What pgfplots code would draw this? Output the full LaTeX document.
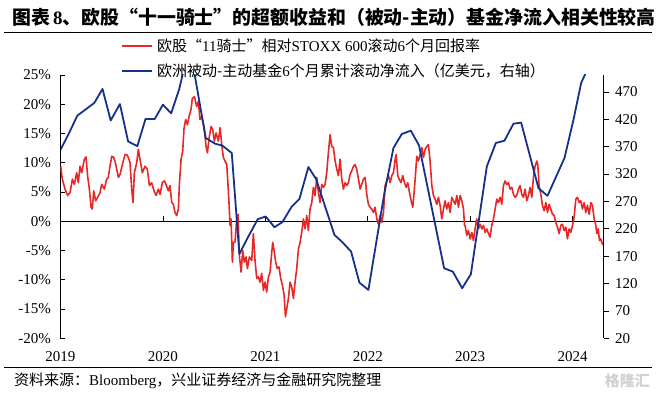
\documentclass[border=0pt]{standalone}
\usepackage{fontspec}
\setmainfont{Liberation Serif}
\newfontfamily\cjk{Noto Sans CJK SC}
\usepackage{pgfplots}
\pgfplotsset{compat=1.18}
\definecolor{myred}{RGB}{230,40,40}
\definecolor{myblue}{RGB}{22,48,140}
\pgfplotstableread{
x y
2019.002 9.4
2019.018 7.2
2019.044 5.5
2019.070 4.4
2019.093 4.9
2019.116 7.2
2019.135 6.3
2019.158 8.3
2019.174 6.6
2019.190 9.4
2019.207 8.3
2019.233 10.6
2019.249 11.0
2019.265 7.7
2019.282 5.5
2019.298 2.4
2019.311 2.1
2019.324 5.2
2019.343 3.5
2019.363 4.1
2019.386 4.9
2019.402 6.3
2019.428 5.5
2019.451 7.2
2019.467 7.5
2019.483 9.4
2019.500 11.1
2019.516 11.0
2019.532 10.3
2019.549 8.9
2019.565 7.5
2019.581 8.0
2019.604 9.7
2019.630 11.4
2019.646 11.4
2019.662 10.9
2019.679 10.0
2019.695 5.5
2019.708 3.2
2019.721 8.3
2019.744 10.0
2019.760 12.3
2019.776 10.6
2019.799 8.3
2019.825 9.4
2019.848 8.9
2019.868 6.1
2019.890 6.6
2019.913 5.2
2019.933 4.4
2019.955 5.5
2019.972 4.6
2019.994 6.6
2020.014 6.9
2020.030 6.3
2020.053 5.2
2020.069 6.1
2020.086 3.2
2020.102 2.9
2020.118 1.5
2020.134 0.96
2020.151 2.1
2020.160 6.1
2020.177 10.6
2020.193 12.0
2020.206 15.9
2020.222 17.4
2020.239 16.5
2020.255 17.9
2020.274 19.1
2020.287 21.0
2020.307 21.3
2020.330 19.6
2020.346 20.5
2020.362 17.4
2020.379 17.9
2020.401 16.2
2020.421 12.8
2020.434 11.7
2020.453 14.5
2020.470 16.2
2020.486 15.7
2020.502 13.7
2020.519 15.1
2020.541 13.7
2020.558 16.0
2020.574 13.1
2020.590 10.9
2020.606 10.3
2020.623 9.7
2020.632 7.2
2020.645 3.2
2020.655 -0.7
2020.665 0.4
2020.678 -7.0
2020.688 -3.6
2020.704 -3.6
2020.720 0.4
2020.733 1.2
2020.746 -5.8
2020.763 -8.7
2020.779 -5.0
2020.795 -7.0
2020.812 -6.1
2020.825 -8.1
2020.844 -6.1
2020.867 -6.7
2020.883 -2.1
2020.899 -6.7
2020.916 -9.8
2020.932 -9.5
2020.948 -10.4
2020.964 -8.9
2020.981 -11.8
2020.997 -10.4
2021.013 -12.1
2021.030 -9.5
2021.046 -8.7
2021.062 -5.3
2021.072 -3.6
2021.085 -5.0
2021.101 -7.0
2021.117 -8.1
2021.134 -7.8
2021.150 -9.8
2021.166 -10.9
2021.183 -12.6
2021.196 -16.3
2021.209 -14.9
2021.225 -13.2
2021.241 -10.4
2021.257 -11.2
2021.274 -13.2
2021.290 -10.4
2021.306 -8.1
2021.323 -4.7
2021.339 -3.6
2021.355 -1.9
2021.371 0.4
2021.388 -1.3
2021.404 1.0
2021.420 -1.6
2021.436 2.1
2021.453 3.2
2021.469 5.8
2021.485 4.4
2021.502 7.5
2021.518 4.9
2021.534 3.2
2021.550 6.3
2021.567 5.8
2021.583 6.3
2021.599 8.3
2021.615 11.7
2021.632 14.8
2021.648 12.8
2021.664 12.6
2021.681 10.3
2021.697 8.9
2021.713 7.8
2021.729 10.6
2021.746 7.2
2021.762 5.5
2021.778 6.6
2021.795 6.1
2021.811 6.6
2021.827 8.0
2021.843 8.6
2021.860 9.4
2021.876 9.7
2021.892 8.9
2021.909 7.2
2021.925 5.5
2021.941 6.3
2021.957 7.2
2021.974 7.5
2021.990 4.6
2022.006 2.9
2022.022 2.4
2022.039 2.1
2022.055 1.5
2022.071 2.4
2022.088 0.4
2022.104 -0.5
2022.120 1.0
2022.136 -0.2
2022.153 1.5
2022.169 6.1
2022.185 6.9
2022.202 7.8
2022.218 6.6
2022.234 7.8
2022.250 8.3
2022.267 10.6
2022.276 11.4
2022.293 7.8
2022.306 7.2
2022.325 6.6
2022.341 7.8
2022.358 6.6
2022.374 5.8
2022.390 6.6
2022.407 4.9
2022.423 3.5
2022.439 2.4
2022.455 5.5
2022.468 8.6
2022.478 11.1
2022.494 10.3
2022.511 11.4
2022.527 12.6
2022.543 10.9
2022.560 12.3
2022.576 12.8
2022.592 13.1
2022.608 10.3
2022.625 6.1
2022.641 4.4
2022.657 3.8
2022.674 2.9
2022.690 4.1
2022.706 2.7
2022.722 0.4
2022.739 2.1
2022.755 3.5
2022.771 2.1
2022.787 3.2
2022.804 1.5
2022.820 4.1
2022.836 3.5
2022.853 2.9
2022.869 4.4
2022.885 2.4
2022.901 4.4
2022.918 3.5
2022.934 2.1
2022.944 -0.7
2022.950 -0.7
2022.966 -2.4
2022.982 -1.6
2022.999 -3.0
2023.015 -1.9
2023.031 -3.3
2023.047 -1.3
2023.064 0.4
2023.080 -1.3
2023.096 -0.5
2023.113 -1.3
2023.129 -0.7
2023.145 -1.9
2023.161 -1.3
2023.178 -2.1
2023.194 -2.7
2023.210 -0.7
2023.227 0.4
2023.243 2.1
2023.259 3.8
2023.275 3.2
2023.292 4.1
2023.308 2.9
2023.324 6.1
2023.340 6.9
2023.357 6.3
2023.373 6.6
2023.389 5.5
2023.406 5.8
2023.422 4.6
2023.438 4.1
2023.454 4.4
2023.471 5.5
2023.487 6.1
2023.503 4.6
2023.519 4.1
2023.536 5.5
2023.552 3.5
2023.568 4.4
2023.585 5.8
2023.601 4.1
2023.617 7.5
2023.633 9.4
2023.650 10.3
2023.659 9.7
2023.672 6.1
2023.689 4.6
2023.705 2.7
2023.721 1.8
2023.738 3.2
2023.754 1.5
2023.770 2.9
2023.786 2.1
2023.803 1.2
2023.819 1.0
2023.835 -0.2
2023.852 -1.0
2023.868 -2.1
2023.884 -0.7
2023.900 -0.5
2023.917 -1.6
2023.933 -1.0
2023.949 -3.0
2023.965 -1.3
2023.982 -1.9
2023.998 -0.7
2024.014 0.7
2024.031 3.8
2024.047 4.1
2024.063 3.2
2024.079 3.5
2024.096 2.1
2024.112 3.2
2024.128 1.5
2024.144 2.7
2024.161 1.2
2024.177 3.2
2024.193 2.7
2024.210 0.4
2024.226 -0.7
2024.236 -2.1
2024.249 -1.3
2024.262 -3.3
2024.275 -3.0
2024.288 -3.8
2024.301 -4.1
}\redtable
\pgfplotstableread{
x y
2019.000 364.5
2019.076 392
2019.164 426.7
2019.330 450
2019.410 475.5
2019.490 418
2019.580 448
2019.660 379.7
2019.750 371
2019.830 420.7
2019.920 420.7
2020.000 446.8
2020.080 431
2020.160 476
2020.260 555
2020.418 385.9
2020.509 375.5
2020.580 372
2020.672 358.5
2020.746 174
2020.834 206
2020.926 237.7
2021.004 242.5
2021.088 223
2021.166 232.2
2021.258 260.8
2021.332 274.3
2021.420 332.8
2021.495 311
2021.674 209
2021.746 196.7
2021.837 178.4
2021.918 121.7
2022.006 108.4
2022.162 285.3
2022.250 367.6
2022.332 393.2
2022.420 399.3
2022.500 372.4
2022.745 148
2022.830 141.8
2022.921 111.5
2023.006 137
2023.162 334
2023.250 376.8
2023.334 381
2023.422 412
2023.497 414
2023.666 294.4
2023.754 280.3
2023.920 349.3
2024.008 419.4
2024.083 486.5
2024.140 510
}\bluetable
\begin{document}
\begin{tikzpicture}[x=1pt,y=1pt]
\useasboundingbox (0,0) rectangle (656,392);
% title
\node[anchor=west, inner sep=0pt] at (12,375) {\fontsize{18.9}{21}\selectfont{\cjk\bfseries 图表}\textbf{\,8}{\cjk\bfseries 、欧股“十一骑士”的超额收益和（被动-主动）基金净流入相关性较高}};
\draw[line width=1pt] (4,359) -- (652,359);
% legend
\draw[myred, line width=1.6pt] (122,346) -- (152,346);
\node[anchor=west, inner sep=0pt] at (157,346) {\fontsize{15}{17}\selectfont{\cjk 欧股“}11{\cjk 骑士”相对}STOXX 600{\cjk 滚动}6{\cjk 个月回报率}};
\draw[myblue, line width=1.6pt] (122,321) -- (152,321);
\node[anchor=west, inner sep=0pt] at (157,321) {\fontsize{15}{17}\selectfont{\cjk 欧洲被动-主动基金}6{\cjk 个月累计滚动净流入（亿美元，右轴）}};
% source
\draw[line width=1pt] (4,24.3) -- (652,24.3);
\node[anchor=west, inner sep=0pt] at (14,11) {\fontsize{15}{17}\selectfont{\cjk 资料来源：}Bloomberg{\cjk ，兴业证券经济与金融研究院整理}};
\node[anchor=east, inner sep=0pt, text=black!18] at (650,11) {\fontsize{15}{17}\selectfont\cjk\bfseries 格隆汇};

\begin{axis}[
  at={(60.5pt,53.7pt)}, anchor=south west, scale only axis,
  width=543pt, height=263.3pt,
  xmin=2019, xmax=2024.301, ymin=-20, ymax=25,
  axis y line*=left, axis x line*=bottom,
  axis line style={-, line width=0.8pt},
  x axis line style={draw=none},
  xtick={2019,2020,2021,2022,2023,2024},
  xticklabels={2019,2020,2021,2022,2023,2024},
  major x tick style={draw=none},
  ytick={-20,-15,...,25},
  yticklabel={\pgfmathprintnumber{\tick}\%},
  tick align=inside, major tick length=5pt,
  y tick style={line width=0.8pt, black},
  /pgf/number format/assume math mode=true,
  ticklabel style={font=\fontsize{15}{15}\selectfont},
  xticklabel style={yshift=-10pt},
  yticklabel style={xshift=-6pt},
  clip=true,
]
\draw[black, line width=0.8pt] (axis cs:2019,0) -- (axis cs:2024.301,0);
\draw[black, line width=0.8pt] (axis cs:2020,0) -- ++(0pt,5pt);
\draw[black, line width=0.8pt] (axis cs:2021,0) -- ++(0pt,5pt);
\draw[black, line width=0.8pt] (axis cs:2022,0) -- ++(0pt,5pt);
\draw[black, line width=0.8pt] (axis cs:2023,0) -- ++(0pt,5pt);
\draw[black, line width=0.8pt] (axis cs:2024,0) -- ++(0pt,5pt);
\addplot[myred, line width=1.6pt, line join=round] table[x=x,y=y] {\redtable};
\end{axis}

\begin{axis}[
  at={(60.5pt,53.7pt)}, anchor=south west, scale only axis,
  width=543pt, height=263.3pt,
  xmin=2019, xmax=2024.301, ymin=20, ymax=501,
  axis y line*=right, axis x line=none,
  axis line style={-, line width=0.8pt},
  ytick={20,70,...,470},
  tick align=outside, major tick length=5pt,
  y tick style={line width=0.8pt, black},
  /pgf/number format/assume math mode=true,
  ticklabel style={font=\fontsize{15}{15}\selectfont},
  yticklabel style={xshift=3pt},
  clip=true,
]
\addplot[myblue, line width=1.8pt, line join=round] table[x=x,y=y] {\bluetable};
\end{axis}
\end{tikzpicture}
\end{document}
